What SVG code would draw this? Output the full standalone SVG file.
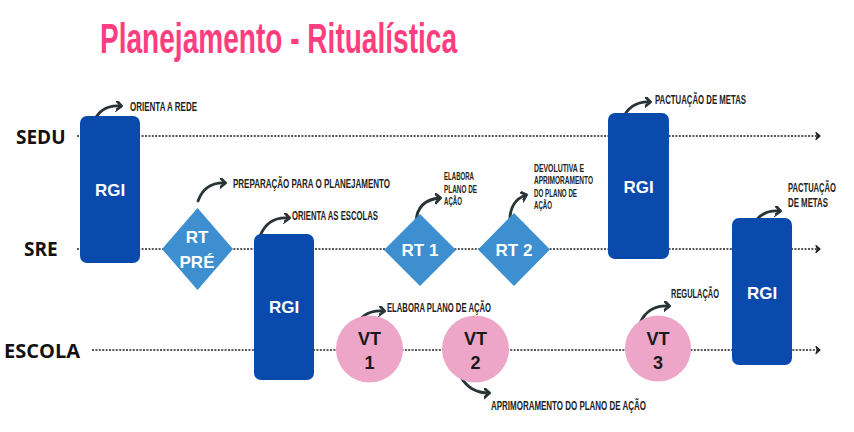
<svg xmlns="http://www.w3.org/2000/svg" width="854" height="432" viewBox="0 0 854 432">
<defs>
<style>
.lane{font-family:"Open Sans","Liberation Sans",sans-serif;font-weight:bold;font-size:19px;fill:#111}
.rgi{fill:#0a4aad}
.rt{fill:#3d8fcf}
.vt{fill:#eda5c8}
.wt{font-family:"Liberation Sans",Arial,sans-serif;font-weight:bold;font-size:17px;fill:#fff;text-anchor:middle}
.dt{font-family:"Liberation Sans",Arial,sans-serif;font-weight:bold;font-size:18px;fill:#1a1a1a;text-anchor:middle}
.lbl{font-family:"Liberation Sans",Arial,sans-serif;font-weight:bold;font-size:13px;fill:#222}
.sm{font-size:11.5px}
.dot{stroke:#222;stroke-width:1.7;stroke-dasharray:2 1.4;fill:none}
.cur{stroke:#283436;stroke-width:2.8;fill:none;stroke-linecap:round;marker-end:url(#ch)}
</style>
<marker id="ch" markerUnits="userSpaceOnUse" markerWidth="14" markerHeight="14" refX="5" refY="5" orient="auto" viewBox="0 0 14 14">
<path d="M0,0 L5.5,5 L0,10" fill="none" stroke="#283436" stroke-width="2.8" stroke-linecap="round" stroke-linejoin="round"/>
</marker>
<marker id="ah" markerUnits="userSpaceOnUse" markerWidth="10" markerHeight="10" refX="5" refY="4" orient="auto" viewBox="0 0 10 8">
<path d="M1,0.5 L5,4 L1,7.5 L2.5,4 Z" fill="#222" stroke="#222" stroke-width="1.2" stroke-linejoin="round"/>
</marker>
</defs>
<rect width="854" height="432" fill="#fff"/>
<text x="100" y="53" font-family="Liberation Sans, Arial, sans-serif" font-weight="bold" font-size="43" fill="#ff3d7f" textLength="357" lengthAdjust="spacingAndGlyphs">Planejamento - Ritualística</text>

<g id="lanes">
<text class="lane" x="16" y="144">SEDU</text>
<text class="lane" x="24" y="256">SRE</text>
<text class="lane" x="4" y="358" textLength="76" lengthAdjust="spacingAndGlyphs">ESCOLA</text>
</g>

<g id="connectors">
<path class="dot" d="M77,136 H820" marker-end="url(#ah)"/>
<path class="dot" d="M77,249 H820" marker-end="url(#ah)"/>
<path class="dot" d="M92,350 H820" marker-end="url(#ah)"/>
<path class="cur" d="M93,123 Q101,104 121,106"/>
<path class="cur" d="M198,201 Q205,182 225,183"/>
<path class="cur" d="M260,236 Q268,216 289,218"/>
<path class="cur" d="M416,222 Q417,200 440,198"/>
<path class="cur" d="M510,226 Q508,201 526,195"/>
<path class="cur" d="M622,120 Q630,101 650,102"/>
<path class="cur" d="M752,228 Q760,209 780,211"/>
<path class="cur" d="M355,328 Q363,309 384,311"/>
<path class="cur" d="M461,377 Q470,393 489,393"/>
<path class="cur" d="M640,323 Q648,305 669,306"/>
</g>

<g id="rgi1">
<rect class="rgi" x="80" y="116" width="60" height="147" rx="7"/>
<text class="wt" x="110" y="196" font-size="18">RGI</text>
<text class="lbl" x="130" y="111" textLength="67" lengthAdjust="spacingAndGlyphs">ORIENTA A REDE</text>
</g>

<g id="rtpre">
<polygon class="rt" points="197.5,208 233,249 197.5,290 162,249"/>
<text class="wt" x="197" y="243">RT</text>
<text class="wt" x="197" y="268">PRÉ</text>
<text class="lbl" x="233" y="188" textLength="157" lengthAdjust="spacingAndGlyphs">PREPARAÇÃO PARA O PLANEJAMENTO</text>
</g>

<g id="rgi2">
<rect class="rgi" x="254" y="234" width="60" height="146" rx="7"/>
<text class="wt" x="284" y="313" font-size="18">RGI</text>
<text class="lbl" x="292" y="220" textLength="86" lengthAdjust="spacingAndGlyphs">ORIENTA AS ESCOLAS</text>
</g>

<g id="rt1">
<polygon class="rt" points="420,214 456,250 420,286 384,250"/>
<text class="wt" x="420" y="256">RT 1</text>
<text class="lbl sm" x="444" y="180" textLength="30" lengthAdjust="spacingAndGlyphs">ELABORA</text>
<text class="lbl sm" x="444" y="193" textLength="33" lengthAdjust="spacingAndGlyphs">PLANO DE</text>
<text class="lbl sm" x="444" y="205" textLength="18" lengthAdjust="spacingAndGlyphs">AÇÃO</text>
</g>

<g id="rt2">
<polygon class="rt" points="514,213 550,249.5 514,286 478,249.5"/>
<text class="wt" x="514" y="256">RT 2</text>
<text class="lbl sm" x="534" y="172" textLength="50" lengthAdjust="spacingAndGlyphs">DEVOLUTIVA E</text>
<text class="lbl sm" x="534" y="184" textLength="59" lengthAdjust="spacingAndGlyphs">APRIMORAMENTO</text>
<text class="lbl sm" x="534" y="197" textLength="43" lengthAdjust="spacingAndGlyphs">DO PLANO DE</text>
<text class="lbl sm" x="534" y="209" textLength="18" lengthAdjust="spacingAndGlyphs">AÇÃO</text>
</g>

<g id="rgi3">
<rect class="rgi" x="608" y="113" width="61" height="146" rx="7"/>
<text class="wt" x="638.5" y="193" font-size="18">RGI</text>
<text class="lbl" x="655" y="104" textLength="91" lengthAdjust="spacingAndGlyphs">PACTUAÇÃO DE METAS</text>
</g>

<g id="rgi4">
<rect class="rgi" x="732" y="218" width="60" height="147" rx="7"/>
<text class="wt" x="762" y="299" font-size="18">RGI</text>
<text class="lbl" x="788" y="192" textLength="48" lengthAdjust="spacingAndGlyphs">PACTUAÇÃO</text>
<text class="lbl" x="788" y="207" textLength="40" lengthAdjust="spacingAndGlyphs">DE METAS</text>
</g>

<g id="vt1">
<circle class="vt" cx="369.5" cy="349" r="33.5"/>
<text class="dt" x="369.5" y="344.5">VT</text>
<text class="dt" x="369.5" y="368.5">1</text>
<text class="lbl" x="387" y="312" textLength="104" lengthAdjust="spacingAndGlyphs">ELABORA PLANO DE AÇÃO</text>
</g>

<g id="vt2">
<circle class="vt" cx="475.5" cy="349" r="33.5"/>
<text class="dt" x="475.5" y="344.5">VT</text>
<text class="dt" x="475.5" y="368.5">2</text>
<text class="lbl" x="491" y="410" textLength="155" lengthAdjust="spacingAndGlyphs">APRIMORAMENTO DO PLANO DE AÇÃO</text>
</g>

<g id="vt3">
<circle class="vt" cx="658" cy="348.5" r="33"/>
<text class="dt" x="658" y="344.5">VT</text>
<text class="dt" x="658" y="368.5">3</text>
<text class="lbl" x="671" y="298" textLength="48" lengthAdjust="spacingAndGlyphs">REGULAÇÃO</text>
</g>
</svg>
